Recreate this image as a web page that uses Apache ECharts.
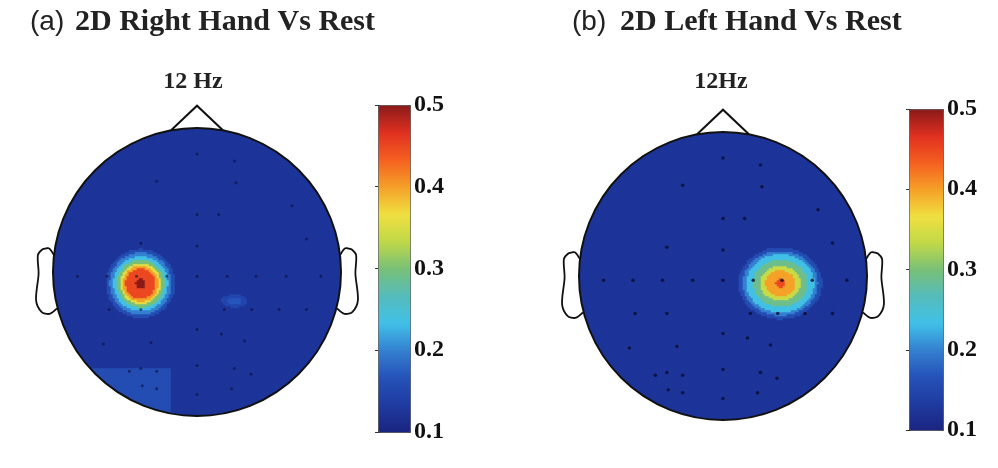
<!DOCTYPE html>
<html lang="en">
<head>
    <meta charset="UTF-8">
    <title>12 Hz topographic maps</title>
    <script src="https://cdn.jsdelivr.net/npm/echarts@6/dist/echarts.min.js"></script>
    <style>
        html, body { margin: 0; padding: 0; background: #fff; }
        #main { width: 998px; height: 468px; }
    </style>
</head>
<body>
<div id="main"></div>
<script>
    // ---- data (head units: centre 0,0, radius 1, y up) ----
    var panelTags = ['(a)', '(b)'];
    var panelTitles = ['2D Right Hand Vs Rest', '2D Left Hand Vs Rest'];
    var freqLabels = ['12 Hz', '12Hz'];
    var scaleTicks = [0.1, 0.2, 0.3, 0.4, 0.5];

    var backgroundA = 0.125;
    var backgroundB = 0.125;

    // hotspot in (a): filled contour bands, outside -> inside
    var hotA_centre = [-0.39, -0.08];
    var hotA_radii  = [0.24, 0.215, 0.19, 0.165, 0.14, 0.125, 0.105, 0.035];
    var hotA_values = [0.16, 0.20, 0.235, 0.30, 0.36, 0.40, 0.45, 0.50];
    var hotA_aspect = 1.0;

    // faint spot right of centre in (a)
    var spotA_centre = [0.26, -0.20];
    var spotA_radii  = [0.09, 0.05];
    var spotA_values = [0.15, 0.17];
    var spotA_aspect = 0.5;

    // lighter patch lower left in (a): [x0, x1, y0, y1, value]
    var patchA = [-1.0, -0.18, -1.0, -0.67, 0.16];

    // hotspot in (b)
    var hotB_centre = [0.40, -0.05];
    var hotB_radii  = [0.29, 0.26, 0.235, 0.19, 0.14, 0.105, 0.035];
    var hotB_values = [0.16, 0.20, 0.235, 0.29, 0.34, 0.40, 0.45];
    var hotB_aspect = 0.86;

    // electrode positions
    var elecX = [-0.28, 0, 0.26, 0.27, 0, 0.15, 0.66, -0.39, 0, 0.76,
                 -0.83, -0.625, -0.42, -0.21, 0, 0.21, 0.41, 0.62, 0.86,
                 -0.61, -0.39, 0.19, 0.38, 0.57, 0.76,
                 0, 0.17, 0.33, -0.65, -0.32, 0, -0.39, -0.28, -0.47, 0.26, 0.375,
                 0, 0.24, -0.38, -0.28];
    var elecY = [0.63, 0.82, 0.77, 0.62, 0.40, 0.40, 0.46, 0.20, 0.18, 0.23,
                 -0.03, -0.03, -0.03, -0.03, -0.03, -0.03, -0.03, -0.03, -0.03,
                 -0.26, -0.26, -0.26, -0.26, -0.26, -0.26,
                 -0.40, -0.43, -0.48, -0.50, -0.49, -0.65, -0.67, -0.69, -0.69, -0.67, -0.71,
                 -0.85, -0.81, -0.79, -0.81];

    // ---- layout ----
    var N = 144;
    var heads = [
        { cx: 197, cy: 272, r: 144 },
        { cx: 723, cy: 276, r: 144 }
    ];
    var bars = [
        { left: 378, top: 105, w: 32, h: 327 },
        { left: 909, top: 109, w: 34, h: 321 }
    ];
    var jet = ['#1a2480', '#1f3ba0', '#2552b8', '#3480d0', '#40c0e8', '#55bcbc', '#78c078',
               '#c0d848', '#f0e040', '#f5a028', '#f56020', '#e03020', '#8a1a1a'];

    function bandValue(x, y, centre, radii, values, aspect) {
        var dx = x - centre[0], dy = (y - centre[1]) / aspect;
        var d = Math.sqrt(dx * dx + dy * dy);
        for (var k = radii.length - 1; k >= 0; k--) {
            if (d <= radii[k]) return values[k];
        }
        return 0;
    }

    function buildCells(bg, spots, patches) {
        var out = [], step = 2 / N, lim = 1 + 0.7 * step;
        for (var i = 0; i < N; i++) {
            for (var j = 0; j < N; j++) {
                var x = -1 + (i + 0.5) * step, y = -1 + (j + 0.5) * step;
                if (x * x + y * y > lim * lim) continue;
                var v = bg;
                patches.forEach(function (p) {
                    if (x >= p[0] && x <= p[1] && y >= p[2] && y <= p[3]) v = Math.max(v, p[4]);
                });
                spots.forEach(function (s) {
                    v = Math.max(v, bandValue(x, y, s[0], s[1], s[2], s[3]));
                });
                out.push([i, j, v]);
            }
        }
        return out;
    }

    var cellsA = buildCells(backgroundA,
        [[hotA_centre, hotA_radii, hotA_values, hotA_aspect],
         [spotA_centre, spotA_radii, spotA_values, spotA_aspect]],
        [patchA]);
    var cellsB = buildCells(backgroundB,
        [[hotB_centre, hotB_radii, hotB_values, hotB_aspect]], []);

    var electrodes = elecX.map(function (x, k) { return [x, elecY[k]]; });
    var cats = [];
    for (var c = 0; c < N; c++) cats.push(c);

    var serifBold = 'bold 30px "Liberation Serif", "DejaVu Serif", serif';

    // head outline pieces (shape of the usual topoplot head)
    var earX = [0.994, 1.02, 1.036, 1.06, 1.084, 1.08, 1.094, 1.064, 1.02, 0.978];
    var earY = [0.111, 0.155, 0.157, 0.149, 0.111, -0.011, -0.186, -0.263, -0.277, -0.24];
    var noseX = [-0.18, 0, 0.18];
    var noseY = [0.984, 1.155, 0.984];

    var graphics = [];
    heads.forEach(function (h, p) {
        function pt(x, y) { return [h.cx + x * h.r, h.cy - y * h.r]; }
        graphics.push({ type: 'ring', z: 50, silent: true,
            shape: { cx: h.cx, cy: h.cy, r: h.r + 9, r0: h.r }, style: { fill: '#fff' } });
        graphics.push({ type: 'circle', z: 60, silent: true,
            shape: { cx: h.cx, cy: h.cy, r: h.r }, style: { fill: null, stroke: '#111', lineWidth: 2 } });
        graphics.push({ type: 'polyline', z: 60, silent: true,
            shape: { points: noseX.map(function (x, k) { return pt(x, noseY[k]); }) },
            style: { fill: null, stroke: '#111', lineWidth: 2 } });
        [1, -1].forEach(function (side) {
            graphics.push({ type: 'polyline', z: 60, silent: true,
                shape: { points: earX.map(function (x, k) { return pt(side * (1 + (x - 1) * 1.25), earY[k] * 1.05); }), smooth: 0.3 },
                style: { fill: null, stroke: '#111', lineWidth: 1.8 } });
        });
        graphics.push({ type: 'text', z: 60, x: h.cx - 4 + p * 2, y: 82,
            style: { text: freqLabels[p], font: 'bold 24px "Liberation Serif", serif', fill: '#222',
                textAlign: 'center', textVerticalAlign: 'middle' } });
    });
    graphics.push({ type: 'text', x: 30, y: 22, style: { text: panelTags[0],
        font: '28px "Liberation Sans", sans-serif', fill: '#222', textVerticalAlign: 'middle' } });
    graphics.push({ type: 'text', x: 75, y: 22, style: { text: panelTitles[0],
        font: serifBold, fill: '#222', textVerticalAlign: 'middle' } });
    graphics.push({ type: 'text', x: 572, y: 22, style: { text: panelTags[1],
        font: '28px "Liberation Sans", sans-serif', fill: '#222', textVerticalAlign: 'middle' } });
    graphics.push({ type: 'text', x: 620, y: 22, style: { text: panelTitles[1],
        font: serifBold, fill: '#222', textVerticalAlign: 'middle' } });

    var grids = [], xAxes = [], yAxes = [];
    heads.forEach(function (h) {
        grids.push({ left: h.cx - h.r, top: h.cy - h.r, width: 2 * h.r, height: 2 * h.r });
    });
    heads.forEach(function (h) {
        grids.push({ left: h.cx - h.r, top: h.cy - h.r, width: 2 * h.r, height: 2 * h.r });
    });
    bars.forEach(function (b) {
        grids.push({ left: b.left, top: b.top, width: b.w, height: b.h });
    });
    for (var g = 0; g < 2; g++) {
        xAxes.push({ type: 'category', data: cats, gridIndex: g, show: false });
        yAxes.push({ type: 'category', data: cats, gridIndex: g, show: false });
    }
    for (g = 2; g < 4; g++) {
        xAxes.push({ type: 'value', min: -1, max: 1, gridIndex: g, show: false });
        yAxes.push({ type: 'value', min: -1, max: 1, gridIndex: g, show: false });
    }
    for (g = 4; g < 6; g++) {
        xAxes.push({ type: 'value', gridIndex: g, show: false });
        yAxes.push({ type: 'value', gridIndex: g, position: 'right', min: scaleTicks[0],
            max: scaleTicks[scaleTicks.length - 1], interval: 0.1,
            axisLine: { show: false }, splitLine: { show: false },
            axisTick: { show: true, inside: true, length: 3, lineStyle: { color: '#333' } },
            axisLabel: { margin: 4, color: '#111', fontFamily: '"Liberation Serif", serif',
                fontWeight: 'bold', fontSize: 24,
                formatter: function (v) { return v.toFixed(1); } } });
        yAxes.push({ type: 'value', gridIndex: g, position: 'left', min: scaleTicks[0],
            max: scaleTicks[scaleTicks.length - 1], interval: 0.1,
            axisLine: { show: false }, splitLine: { show: false }, axisLabel: { show: false },
            axisTick: { show: true, inside: true, length: 3, lineStyle: { color: '#333' } } });
    }

    var option = {
        animation: false,
        backgroundColor: '#fff',
        grid: grids,
        xAxis: xAxes,
        yAxis: yAxes,
        visualMap: bars.map(function (b, k) {
            return {
                type: 'continuous', seriesIndex: k, min: 0.1, max: 0.5,
                left: b.left, top: b.top, itemWidth: b.w, itemHeight: b.h,
                padding: 0, borderWidth: 1, borderColor: '#444',
                calculable: false, hoverLink: false,
                inRange: { color: jet }
            };
        }),
        graphic: { elements: graphics },
        series: [
            { type: 'heatmap', xAxisIndex: 0, yAxisIndex: 0, data: cellsA, progressive: 0, silent: true },
            { type: 'heatmap', xAxisIndex: 1, yAxisIndex: 1, data: cellsB, progressive: 0, silent: true },
            { type: 'scatter', xAxisIndex: 2, yAxisIndex: 2, data: electrodes, symbolSize: 3,
              itemStyle: { color: '#0a0a30', opacity: 0.55 }, silent: true },
            { type: 'scatter', xAxisIndex: 3, yAxisIndex: 3, data: electrodes, symbolSize: 3.5,
              itemStyle: { color: '#0a0a30', opacity: 0.8 }, silent: true }
        ]
    };

    var myChart = echarts.init(document.getElementById('main'));
    myChart.setOption(option);
</script>
</body>
</html>
